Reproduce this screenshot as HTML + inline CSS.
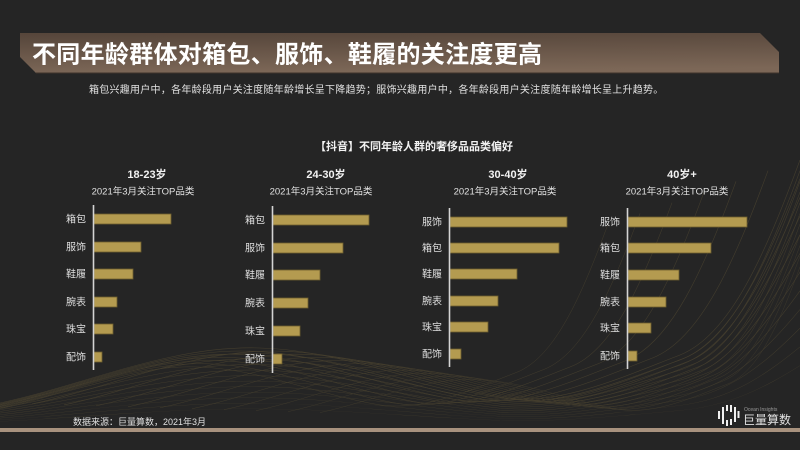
<!DOCTYPE html>
<html>
<head>
<meta charset="utf-8">
<style>
  html,body{margin:0;padding:0;background:#252525;width:800px;height:450px;overflow:hidden;}
  body{position:relative;}
  svg{position:absolute;left:0;top:0;display:block;}
  .t{font-family:"Liberation Sans","Noto Sans CJK SC",sans-serif;}
</style>
</head>
<body>
<svg width="800" height="450" viewBox="0 0 800 450" xmlns="http://www.w3.org/2000/svg">
  <defs>
    <linearGradient id="bg1" x1="0" y1="0" x2="0.15" y2="1">
      <stop offset="0" stop-color="#55453a"/>
      <stop offset="1" stop-color="#7c6757"/>
    </linearGradient>
    <clipPath id="meshclip"><rect x="0" y="160" width="800" height="267"/></clipPath>
    <path id="w" d="M 0 403 C 85 385, 170 345, 260 348 C 340 350, 420 385, 500 398 C 560 406, 620 378, 680 355 C 730 335, 765 255, 800 160" fill="none"/>
  </defs>
  <rect x="0" y="0" width="800" height="450" fill="#252525"/>

  <!-- mesh -->
  <g clip-path="url(#meshclip)" stroke="#9c8446" stroke-width="0.6" fill="none" opacity="0.26">
    <use href="#w"/>
    <use href="#w" transform="translate(0,427) scale(1,0.93) translate(0,-427)"/>
    <use href="#w" transform="translate(0,427) scale(1,0.86) translate(0,-427)"/>
    <use href="#w" transform="translate(0,427) scale(1,0.79) translate(0,-427)"/>
    <use href="#w" transform="translate(0,427) scale(1,0.72) translate(0,-427)"/>
    <use href="#w" transform="translate(0,427) scale(1,0.65) translate(0,-427)"/>
    <use href="#w" transform="translate(0,427) scale(1,0.58) translate(0,-427)"/>
    <use href="#w" transform="translate(0,427) scale(1,0.51) translate(0,-427)"/>
    <use href="#w" transform="translate(0,427) scale(1,0.44) translate(0,-427)"/>
    <use href="#w" transform="translate(0,427) scale(1,0.37) translate(0,-427)"/>
    <use href="#w" transform="translate(0,427) scale(1,0.30) translate(0,-427)"/>
    <use href="#w" transform="translate(0,427) scale(1,0.23) translate(0,-427)"/>
    <use href="#w" transform="translate(800,427) scale(0.96) translate(-800,-427)"/>
    <use href="#w" transform="translate(800,427) scale(0.92) translate(-800,-427)"/>
    <use href="#w" transform="translate(800,427) scale(0.88) translate(-800,-427)"/>
    <use href="#w" transform="translate(800,427) scale(0.84) translate(-800,-427)"/>
    <use href="#w" transform="translate(800,427) scale(0.80) translate(-800,-427)"/>
    <use href="#w" transform="translate(800,427) scale(0.76) translate(-800,-427)"/>
    <use href="#w" transform="translate(800,427) scale(0.72) translate(-800,-427)"/>
    <use href="#w" transform="translate(800,427) scale(0.68) translate(-800,-427)"/>
    <use href="#w" transform="translate(800,427) scale(0.64) translate(-800,-427)"/>
    <use href="#w" transform="translate(800,427) scale(0.60) translate(-800,-427)"/>
    <use href="#w" transform="translate(0,427) scale(0.96) translate(0,-427)"/>
    <use href="#w" transform="translate(0,427) scale(0.92) translate(0,-427)"/>
    <use href="#w" transform="translate(0,427) scale(0.88) translate(0,-427)"/>
    <use href="#w" transform="translate(0,427) scale(0.84) translate(0,-427)"/>
    <use href="#w" transform="translate(0,427) scale(0.80) translate(0,-427)"/>
    <use href="#w" transform="translate(0,427) scale(0.76) translate(0,-427)"/>
  </g>

  <!-- banner -->
  <polygon points="20,33 760,33 779,52 779,73 36,73 20,57" fill="url(#bg1)"/>
  <line x1="36" y1="73" x2="779" y2="73" stroke="#3e332b" stroke-width="1"/>
  <text class="t" x="32" y="62.5" font-size="24" font-weight="bold" fill="#ffffff" letter-spacing="0.3">不同年龄群体对箱包、服饰、鞋履的关注度更高</text>
  <text class="t" x="89" y="92.8" font-size="10" fill="#e2e2e2" letter-spacing="0.26">箱包兴趣用户中，各年龄段用户关注度随年龄增长呈下降趋势；服饰兴趣用户中，各年龄段用户关注度随年龄增长呈上升趋势。</text>

  <!-- chart title -->
  <text class="t" x="414" y="150" font-size="11" font-weight="bold" fill="#f2f2f2" text-anchor="middle">【抖音】不同年龄人群的奢侈品品类偏好</text>

  <!-- Chart 1 -->
  <g class="t">
    <text x="147" y="178" font-size="11" font-weight="bold" fill="#f2f2f2" text-anchor="middle">18-23岁</text>
    <text x="143" y="194.5" font-size="9.5" fill="#e0e0e0" text-anchor="middle">2021年3月关注TOP品类</text>
  </g>
  <g fill="#b49b50" stroke="#6f5e2d" stroke-width="0.8">
    <rect x="94" y="214" width="77" height="10"/>
    <rect x="94" y="242" width="47" height="10"/>
    <rect x="94" y="269" width="39" height="10"/>
    <rect x="94" y="297" width="23" height="10"/>
    <rect x="94" y="324" width="19" height="10"/>
    <rect x="94" y="352" width="8" height="10"/>
  </g>
  <line x1="93.5" y1="205" x2="93.5" y2="370" stroke="#d4d4d4" stroke-width="1.6"/>
  <g class="t" font-size="10" fill="#dedede" text-anchor="end">
    <text x="86" y="222.5">箱包</text>
    <text x="86" y="250.5">服饰</text>
    <text x="86" y="277.5">鞋履</text>
    <text x="86" y="305.5">腕表</text>
    <text x="86" y="332.5">珠宝</text>
    <text x="86" y="360.5">配饰</text>
  </g>

  <!-- Chart 2 -->
  <g class="t">
    <text x="326" y="178" font-size="11" font-weight="bold" fill="#f2f2f2" text-anchor="middle">24-30岁</text>
    <text x="321" y="194.5" font-size="9.5" fill="#e0e0e0" text-anchor="middle">2021年3月关注TOP品类</text>
  </g>
  <g fill="#b49b50" stroke="#6f5e2d" stroke-width="0.8">
    <rect x="273" y="215" width="96" height="10"/>
    <rect x="273" y="243" width="70" height="10"/>
    <rect x="273" y="270" width="47" height="10"/>
    <rect x="273" y="298" width="35" height="10"/>
    <rect x="273" y="326" width="27" height="10"/>
    <rect x="273" y="354" width="9" height="10"/>
  </g>
  <line x1="272.5" y1="206" x2="272.5" y2="373" stroke="#d4d4d4" stroke-width="1.6"/>
  <g class="t" font-size="10" fill="#dedede" text-anchor="end">
    <text x="265" y="223.5">箱包</text>
    <text x="265" y="251.5">服饰</text>
    <text x="265" y="278.5">鞋履</text>
    <text x="265" y="306.5">腕表</text>
    <text x="265" y="334.5">珠宝</text>
    <text x="265" y="362.5">配饰</text>
  </g>

  <!-- Chart 3 -->
  <g class="t">
    <text x="508" y="178" font-size="11" font-weight="bold" fill="#f2f2f2" text-anchor="middle">30-40岁</text>
    <text x="505" y="194.5" font-size="9.5" fill="#e0e0e0" text-anchor="middle">2021年3月关注TOP品类</text>
  </g>
  <g fill="#b49b50" stroke="#6f5e2d" stroke-width="0.8">
    <rect x="450" y="217" width="117" height="10"/>
    <rect x="450" y="243" width="109" height="10"/>
    <rect x="450" y="269" width="67" height="10"/>
    <rect x="450" y="296" width="48" height="10"/>
    <rect x="450" y="322" width="38" height="10"/>
    <rect x="450" y="349" width="11" height="10"/>
  </g>
  <line x1="449.5" y1="208" x2="449.5" y2="367" stroke="#d4d4d4" stroke-width="1.6"/>
  <g class="t" font-size="10" fill="#dedede" text-anchor="end">
    <text x="442" y="225.5">服饰</text>
    <text x="442" y="251.5">箱包</text>
    <text x="442" y="277.5">鞋履</text>
    <text x="442" y="304.5">腕表</text>
    <text x="442" y="330.5">珠宝</text>
    <text x="442" y="357.5">配饰</text>
  </g>

  <!-- Chart 4 -->
  <g class="t">
    <text x="682" y="178" font-size="11" font-weight="bold" fill="#f2f2f2" text-anchor="middle">40岁+</text>
    <text x="677" y="194.5" font-size="9.5" fill="#e0e0e0" text-anchor="middle">2021年3月关注TOP品类</text>
  </g>
  <g fill="#b49b50" stroke="#6f5e2d" stroke-width="0.8">
    <rect x="628" y="217" width="119" height="10"/>
    <rect x="628" y="243" width="83" height="10"/>
    <rect x="628" y="270" width="51" height="10"/>
    <rect x="628" y="297" width="38" height="10"/>
    <rect x="628" y="323" width="23" height="10"/>
    <rect x="628" y="351" width="9" height="10"/>
  </g>
  <line x1="627.5" y1="208" x2="627.5" y2="369" stroke="#d4d4d4" stroke-width="1.6"/>
  <g class="t" font-size="10" fill="#dedede" text-anchor="end">
    <text x="620" y="225.5">服饰</text>
    <text x="620" y="251.5">箱包</text>
    <text x="620" y="278.5">鞋履</text>
    <text x="620" y="305.5">腕表</text>
    <text x="620" y="331.5">珠宝</text>
    <text x="620" y="359.5">配饰</text>
  </g>

  <!-- footer -->
  <text class="t" x="73" y="425" font-size="9" fill="#e0e0e0">数据来源：巨量算数，2021年3月</text>

  <g fill="#f0f0f0">
    <rect x="718" y="411" width="2" height="8"/>
    <rect x="722" y="407" width="2" height="17"/>
    <rect x="726" y="405" width="2" height="6"/>
    <rect x="726" y="420" width="2" height="6"/>
    <rect x="730" y="405" width="2" height="7"/>
    <rect x="730" y="419" width="2" height="6"/>
    <rect x="734" y="407" width="2" height="15"/>
    <rect x="737.5" y="411" width="2" height="7"/>
  </g>
  <text class="t" x="744" y="411" font-size="5" fill="#9a9a9a">Ocean Insights</text>
  <text class="t" x="743" y="424" font-size="12" fill="#e0e0e0">巨量算数</text>

  <rect x="0" y="428" width="800" height="4" fill="#a8927e"/>
</svg>
</body>
</html>
